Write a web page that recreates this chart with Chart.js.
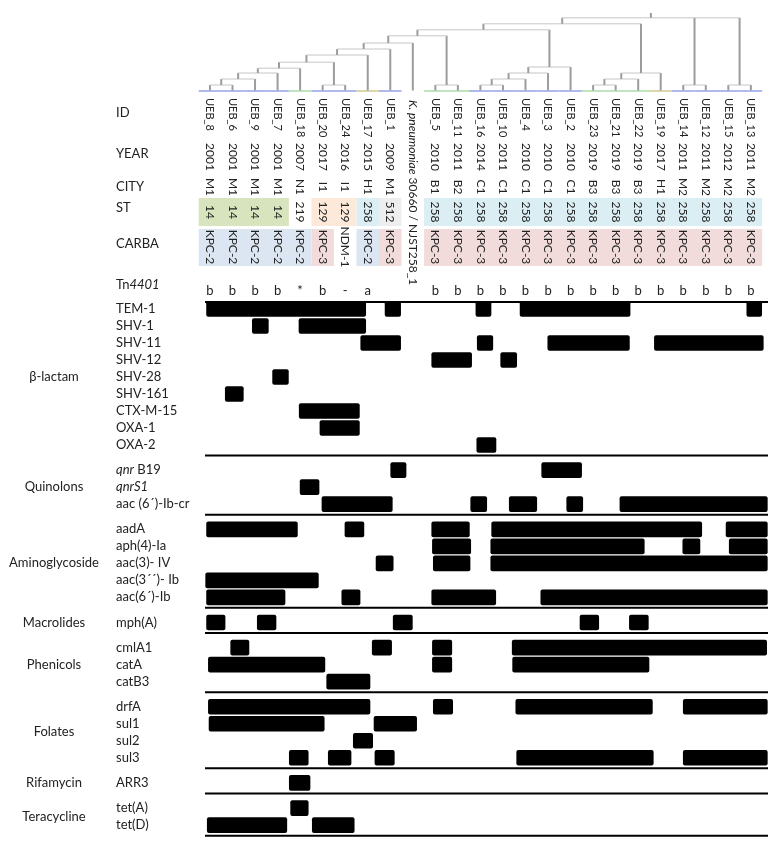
<!DOCTYPE html>
<html>
<head>
<meta charset="utf-8">
<script src="https://cdn.jsdelivr.net/npm/chart.js@4"></script>
<style>
  html, body { margin: 0; padding: 0; background: #fff; }
  canvas { display: block; }
</style>
</head>
<body>
<canvas id="resChart" width="783" height="848"></canvas>
<script>
// ----------- Isolate data (one entry per column) ------------
const ids = ["UEB_8", "UEB_6", "UEB_9", "UEB_7", "UEB_18", "UEB_20", "UEB_24", "UEB_17", "UEB_1", "", "UEB_5", "UEB_11", "UEB_16", "UEB_10", "UEB_4", "UEB_3", "UEB_2", "UEB_23", "UEB_21", "UEB_22", "UEB_19", "UEB_14", "UEB_12", "UEB_15", "UEB_13"];
const refColumn = 9; // K. pneumoniae reference genome
const years = ["2001", "2001", "2001", "2001", "2007", "2017", "2016", "2015", "2009", "", "2010", "2011", "2014", "2011", "2010", "2010", "2010", "2019", "2019", "2019", "2017", "2011", "2011", "2012", "2011"];
const cities = ["M1", "M1", "M1", "M1", "N1", "I1", "I1", "H1", "M1", "", "B1", "B2", "C1", "C1", "C1", "C1", "C1", "B3", "B3", "B3", "H1", "M2", "M2", "M2", "M2"];
const stTypes = ["14", "14", "14", "14", "219", "129", "129", "258", "512", "", "258", "258", "258", "258", "258", "258", "258", "258", "258", "258", "258", "258", "258", "258", "258"];
const carbas = ["KPC-2", "KPC-2", "KPC-2", "KPC-2", "KPC-2", "KPC-3", "NDM-1", "KPC-2", "KPC-3", "", "KPC-3", "KPC-3", "KPC-3", "KPC-3", "KPC-3", "KPC-3", "KPC-3", "KPC-3", "KPC-3", "KPC-3", "KPC-3", "KPC-3", "KPC-3", "KPC-3", "KPC-3"];
const tn4401 = ["b", "b", "b", "b", "*", "b", "-", "a", "", "", "b", "b", "b", "b", "b", "b", "b", "b", "b", "b", "b", "b", "b", "b", "b"];

// dendrogram: [children, height]; numbers are leaves, "nK" is merge K
const treeMerges = [
  [[0, 1], 1], [["n0", 2], 2], [["n1", 3], 3], [["n2", 4], 3.8], [[5, 6], 1],
  [["n3", "n4"], 4.8], [["n5", 7], 6], [["n6", 8], 7], [["n7", 9], 8], [[10, 11], 1],
  [["n8", "n9"], 9.2], [[12, 13], 1], [["n11", 14], 2], [["n12", 15], 3], [["n13", 16], 4],
  [["n10", "n14"], 10.2], [[17, 18], 1], [["n16", 19], 2], [["n17", 20], 3],
  [["n15", "n18"], 11.2], [[21, 22], 1], [[23, 24], 1], [["n19", "n20", "n21"], 12.2]
];
const treeClade = [1, 1, 1, 1, 2, 1, 1, 3, 1, 0, 2, 2, 1, 1, 1, 1, 1, 2, 2, 2, 3, 1, 1, 1, 1];

// ----------- Resistance genes ------------
const groupNames = ["β-lactam", "Quinolons", "Aminoglycoside", "Macrolides", "Phenicols", "Folates", "Rifamycin", "Teracycline"];
const groupGenes = [
  ["TEM-1", "SHV-1", "SHV-11", "SHV-12", "SHV-28", "SHV-161", "CTX-M-15", "OXA-1", "OXA-2"],
  ["qnr B19", "qnrS1", "aac (6´)-Ib-cr"],
  ["aadA", "aph(4)-Ia", "aac(3)- IV", "aac(3´´)- Ib", "aac(6´)-Ib"],
  ["mph(A)"],
  ["cmlA1", "catA", "catB3"],
  ["drfA", "sul1", "sul2", "sul3"],
  ["ARR3"],
  ["tet(A)", "tet(D)"]
];
// presence spans per gene, in column units (same order as the genes above)
const geneBars = [
  [[-0.15, 6.91], [7.77, 8.46], [11.80, 12.47], [13.76, 18.64], [23.82, 24.48]],
  [[1.88, 2.59], [3.95, 6.91]],
  [[6.69, 8.46], [11.86, 12.55], [14.99, 18.61], [19.72, 24.55]],
  [[9.84, 11.61], [12.90, 13.61]],
  [[2.78, 3.48]],
  [[0.68, 1.48]],
  [[3.96, 6.63]],
  [[4.88, 6.63]],
  [[11.84, 12.69]],
  [[8.02, 8.70], [14.72, 16.49]],
  [[4.00, 4.84]],
  [[4.97, 8.09], [11.57, 12.28], [13.28, 14.50], [15.83, 16.54], [18.19, 24.73]],
  [[-0.15, 3.88], [5.99, 6.83], [9.84, 11.51], [12.50, 21.82], [22.90, 24.73]],
  [[9.87, 11.57], [12.46, 19.27], [20.98, 21.74], [23.04, 24.73]],
  [[7.37, 8.13], [9.91, 11.54], [12.46, 24.73]],
  [[-0.19, 4.81]],
  [[-0.15, 3.33], [5.85, 6.66], [9.84, 12.68], [14.68, 24.73]],
  [[-0.15, 0.67], [2.10, 2.93], [8.13, 8.98], [16.42, 17.25], [18.61, 19.45]],
  [[0.92, 1.73], [7.20, 8.06], [9.87, 10.73], [13.41, 24.70]],
  [[-0.07, 5.10], [9.87, 10.73], [13.43, 19.48]],
  [[5.18, 7.10]],
  [[-0.07, 7.10], [9.91, 10.77], [13.57, 19.63], [21.00, 24.73]],
  [[-0.04, 5.07], [7.28, 9.17]],
  [[6.36, 7.22]],
  [[3.52, 4.36], [5.25, 6.26], [7.32, 8.18], [13.61, 19.67], [21.00, 24.73]],
  [[3.52, 4.44]],
  [[3.58, 4.36]],
  [[-0.12, 3.41], [4.54, 6.40]]
];

// ----------- Styles ------------
const stColors = { "14": "#d7e4bd", "129": "#fde9d9", "258": "#dbeef4", "512": "#eeeeee" };
const carbaColors = { "KPC-2": "#dce6f2", "KPC-3": "#f2dcdb" };
const cladeColors = { 1: "#94a2e6", 2: "#a9dca9", 3: "#cfc890" };
const italicGenes = { "qnr B19": "qnr", "qnrS1": "qnrS1" };
const FONT = "13px Lato";
const FONT_IT = "italic 13px Lato";
const COL_FONT = "12px Lato";
const COL_FONT_IT = "italic 12px Lato";
const ID_FONT = "11px Lato";
const TEXT = "#222";
const GROUP_GAP = 0.48;

// row positions on the y scale
const rowPos = [];
const groupRows = [];
let pos = 0;
groupGenes.forEach((genes) => {
  const rows = [];
  genes.forEach(() => { rows.push(pos); rowPos.push(pos); pos += 1; });
  groupRows.push(rows);
  pos += GROUP_GAP;
});
const geneNames = groupGenes.flat();
const barPoints = geneBars.flatMap((spans, r) => spans.map((s) => ({ x: s, y: rowPos[r] })));

function runs(values) {
  const out = [];
  values.forEach((v, i) => {
    const last = out[out.length - 1];
    if (last && last.v === v) last.end = i;
    else out.push({ v, start: i, end: i });
  });
  return out;
}

// ----------- Header, tree and labels ------------
const matrixDecor = {
  id: "matrixDecor",
  afterDatasetsDraw(chart) {
    const { ctx, chartArea: area, scales: { x, y } } = chart;
    const cx = (i) => x.getPixelForValue(i);
    ctx.save();

    // dendrogram
    const base = 91, step = 6;
    const hy = (h) => base - h * step;
    treeClade.forEach((c, i) => {
      if (!c) return;
      ctx.strokeStyle = cladeColors[c];
      ctx.lineWidth = 1.5;
      ctx.beginPath();
      ctx.moveTo(cx(i - 0.5), base);
      ctx.lineTo(cx(i + 0.5), base);
      ctx.stroke();
    });
    const nodes = [];
    treeMerges.forEach(([kids, h]) => {
      const pts = kids.map((k) => typeof k === "number" ? { x: cx(k), h: 0 } : nodes[+k.slice(1)]);
      const top = hy(h);
      ctx.strokeStyle = "#9c9c9c";
      ctx.lineWidth = 2;
      pts.forEach((p) => {
        ctx.beginPath();
        ctx.moveTo(p.x, hy(p.h) - (p.h ? 0 : 0.5));
        ctx.lineTo(p.x, top);
        ctx.stroke();
      });
      const xs = pts.map((p) => p.x);
      const x0 = Math.min(...xs), x1 = Math.max(...xs);
      ctx.strokeStyle = "#c6c6c6";
      ctx.lineWidth = 1;
      ctx.beginPath();
      ctx.moveTo(x0, top);
      ctx.lineTo(x1, top);
      ctx.stroke();
      nodes.push({ x: (x0 + x1) / 2, h });
    });
    const root = nodes[nodes.length - 1];
    ctx.strokeStyle = "#9c9c9c";
    ctx.lineWidth = 2;
    ctx.beginPath();
    ctx.moveTo(root.x, hy(root.h));
    ctx.lineTo(root.x, hy(root.h + 0.8));
    ctx.stroke();

    // ST and CARBA boxes
    const box = (vals, colors, yTop, yBot) => {
      runs(vals).forEach((r) => {
        if (!colors[r.v]) return;
        ctx.fillStyle = colors[r.v];
        ctx.fillRect(cx(r.start - 0.5), yTop, cx(r.end + 0.5) - cx(r.start - 0.5), yBot - yTop);
      });
    };
    box(stTypes, stColors, 198, 226);
    box(carbas, carbaColors, 229, 266);

    // rotated column texts
    ctx.fillStyle = TEXT;
    ctx.textBaseline = "middle";
    const vText = (txt, px, py, align) => {
      if (!txt) return;
      ctx.save();
      ctx.translate(px, py);
      ctx.rotate(Math.PI / 2);
      ctx.textAlign = align;
      ctx.fillText(txt, 0, 0);
      ctx.restore();
    };
    ctx.font = ID_FONT;
    ids.forEach((t, i) => vText(t, cx(i), 98, "left"));
    ctx.font = COL_FONT;
    years.forEach((t, i) => vText(t, cx(i), 157, "center"));
    cities.forEach((t, i) => vText(t, cx(i), 187, "center"));
    stTypes.forEach((t, i) => vText(t, cx(i), 212, "center"));
    carbas.forEach((t, i) => vText(t, cx(i), 247, "center"));

    // reference genome label
    ctx.save();
    ctx.translate(cx(refColumn), 100);
    ctx.rotate(Math.PI / 2);
    ctx.textAlign = "left";
    ctx.font = COL_FONT_IT;
    ctx.fillText("K. pneumoniae", 0, 0);
    const w = ctx.measureText("K. pneumoniae").width;
    ctx.font = COL_FONT;
    ctx.fillText(" 30660 / NJST258_1", w, 0);
    ctx.restore();

    // Tn4401 row
    ctx.font = FONT;
    ctx.textAlign = "center";
    tn4401.forEach((t, i) => t && ctx.fillText(t, cx(i), 291));

    // row titles
    ctx.textAlign = "left";
    [["ID", 113], ["YEAR", 154], ["CITY", 187], ["ST", 208], ["CARBA", 244]].forEach(([t, py]) => ctx.fillText(t, 116, py));
    ctx.fillText("Tn", 116, 285);
    const tw = ctx.measureText("Tn").width;
    ctx.font = FONT_IT;
    ctx.fillText("4401", 116 + tw, 285);

    // separators
    ctx.strokeStyle = "#000";
    ctx.lineWidth = 2;
    const hLine = (py) => {
      ctx.beginPath();
      ctx.moveTo(area.left, py);
      ctx.lineTo(area.right, py);
      ctx.stroke();
    };
    hLine(area.top + 1);
    groupRows.forEach((rows) => hLine(y.getPixelForValue(rows[rows.length - 1] + 0.62)));

    // gene labels
    geneNames.forEach((g, r) => {
      const py = y.getPixelForValue(rowPos[r]);
      const it = italicGenes[g];
      if (it) {
        ctx.font = FONT_IT;
        ctx.fillText(it, 116, py);
        const iw = ctx.measureText(it).width;
        ctx.font = FONT;
        ctx.fillText(g.slice(it.length), 116 + iw, py);
      } else {
        ctx.font = FONT;
        ctx.fillText(g, 116, py);
      }
    });

    // group labels
    ctx.font = FONT;
    ctx.textAlign = "center";
    groupRows.forEach((rows, k) => {
      const mid = (rows[0] + rows[rows.length - 1]) / 2;
      ctx.fillText(groupNames[k], 54, y.getPixelForValue(mid));
    });
    ctx.restore();
  }
};

// ----------- Chart ------------
const yMin = -0.47;
const pxPerRow = 17;
new Chart(document.getElementById("resChart"), {
  type: "bar",
  data: {
    datasets: [
      {
        data: barPoints,
        backgroundColor: "#000",
        borderRadius: 2,
        borderSkipped: false,
        barThickness: 15,
      },
    ],
  },
  options: {
    responsive: false,
    animation: false,
    indexAxis: "y",
    layout: { padding: { left: 205, right: 15, top: 301, bottom: 0 } },
    scales: {
      x: { type: "linear", min: -0.22, max: 24.76, offset: false, display: false },
      y: { type: "linear", min: yMin, max: yMin + 547 / pxPerRow, offset: false, grace: 0, reverse: true, display: false },
    },
    plugins: {
      legend: { display: false },
      tooltip: { enabled: false },
    },
  },
  plugins: [matrixDecor],
});
</script>
</body>
</html>
